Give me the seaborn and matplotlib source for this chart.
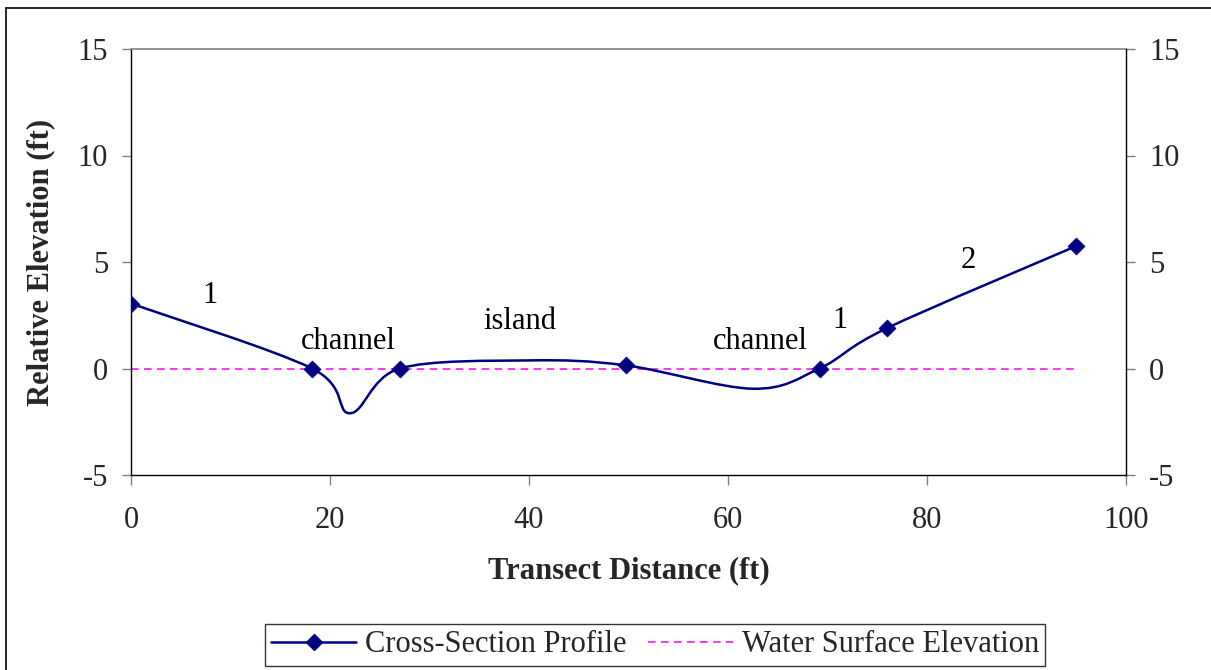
import numpy as np
import pandas as pd
import matplotlib
matplotlib.use("Agg")
import matplotlib.pyplot as plt
from matplotlib.path import Path
from matplotlib.patches import PathPatch
from matplotlib.lines import Line2D
import seaborn as sns

# Cross-section survey (ft); unmarked points shape the smoothed curve
x_profile = [0.0, 18.2, 22.0, 27.0, 40.0, 49.7, 62.5, 69.2, 76.0, 95.0]
y_profile = [3.05, 0.0, -2.1, 0.0, 0.38, 0.15, -0.95, 0.0, 1.9, 5.75]
has_marker = [True, True, False, True, False, True, False, True, True, True]

# Water surface line
x_water = [0.0, 95.0]
y_water = [0.0, 0.0]

# Feature labels
label_text = ["1", "channel", "island", "channel", "1", "2"]
label_x = [7.9, 21.8, 39.1, 63.2, 71.3, 84.1]
label_y = [3.45, 1.27, 2.2, 1.27, 2.25, 5.05]

navy = "#000080"
magenta = "#ff00ff"

sns.set_style("ticks")
plt.rcParams["font.family"] = ["Liberation Serif", "DejaVu Serif"]
plt.rcParams["axes.unicode_minus"] = False
fs = 22

fig = plt.figure(figsize=(12.11, 6.70), dpi=100)
ax = fig.add_axes([131 / 1211, 1 - 475 / 670, 995 / 1211, 426 / 670])

# smoothed profile: Catmull-Rom style Bezier segments (like Excel smoothing)
pts = np.column_stack([x_profile, y_profile])
ext = np.vstack([pts[0], pts, pts[-1]])
verts = [tuple(pts[0])]
codes = [Path.MOVETO]
for i in range(len(pts) - 1):
    p0, p1, p2, p3 = ext[i], ext[i + 1], ext[i + 2], ext[i + 3]
    c1 = p1 + (p2 - p0) / 6.0
    c2 = p2 - (p3 - p1) / 6.0
    verts += [tuple(c1), tuple(c2), tuple(p2)]
    codes += [Path.CURVE4] * 3
ax.add_patch(PathPatch(Path(verts, codes), facecolor="none", edgecolor=navy,
                       lw=1.8, zorder=3))

df_water = pd.DataFrame({"x": x_water, "y": y_water})
sns.lineplot(data=df_water, x="x", y="y", ax=ax, color=magenta, lw=1.1,
             dashes=False, linestyle=(0, (5, 3.5)), zorder=2, legend=False)

df_pts = pd.DataFrame({"x": x_profile, "y": y_profile, "m": has_marker})
df_pts = df_pts[df_pts["m"]]
sns.scatterplot(data=df_pts, x="x", y="y", ax=ax, marker="D", s=75,
                color=navy, edgecolor=navy, linewidth=0.5, zorder=4, legend=False)

for t, lx, ly in zip(label_text, label_x, label_y):
    ax.text(lx, ly, t, ha="center", va="center", fontsize=fs, color="black")

ax.set_xlim(0, 100)
ax.set_ylim(-5, 15)
ax.set_xticks(range(0, 101, 20))
ax.set_yticks(range(-5, 16, 5))
ax.tick_params(axis="x", direction="out", length=7, width=1, color="#808080",
               pad=15, labelsize=fs)
ax.tick_params(axis="y", direction="out", length=6.5, width=1, color="#808080",
               pad=10, labelsize=fs)
for s in ["left", "bottom"]:
    ax.spines[s].set_color("black")
    ax.spines[s].set_linewidth(1.0)
ax.spines["top"].set_visible(True)
ax.spines["top"].set_color("#808080")
ax.spines["top"].set_linewidth(1.2)
ax.spines["right"].set_visible(False)

ax2 = ax.twinx()
ax2.set_ylim(-5, 15)
ax2.set_yticks(range(-5, 16, 5))
ax2.tick_params(axis="y", direction="out", length=6.5, width=1, color="#808080",
                pad=10, labelsize=fs)
for s in ["left", "top", "bottom"]:
    ax2.spines[s].set_visible(False)
ax2.spines["right"].set_visible(True)
ax2.spines["right"].set_color("black")
ax2.spines["right"].set_linewidth(1.0)
ax2.set_ylabel("")

ax.set_xlabel("Transect Distance (ft)", fontsize=fs, fontweight="bold")
ax.set_ylabel("Relative Elevation (ft)", fontsize=fs, fontweight="bold")
ax.xaxis.set_label_coords(0.5, -0.19)
ax.xaxis.label.set_va("top")
ax.yaxis.set_label_coords(-0.076, 0.5)

handles = [
    Line2D([], [], color=navy, lw=1.8, marker="D", markersize=8.5),
    Line2D([], [], color=magenta, lw=1.1, linestyle=(0, (5, 3.5))),
]
leg = fig.legend(handles, ["Cross-Section Profile", "Water Surface Elevation"],
                 loc="center", bbox_to_anchor=(655 / 1211, 1 - 645 / 670),
                 ncol=2, fontsize=fs, frameon=True, fancybox=False,
                 handlelength=2.8, handletextpad=0.28, columnspacing=0.7,
                 borderpad=0.2, borderaxespad=0)
leg.get_frame().set_edgecolor("black")
leg.get_frame().set_linewidth(1.0)

# outer chart border (top and left visible)
bx = 6 / 1211
by = 1 - 8 / 670
fig.add_artist(Line2D([bx, bx], [0, by], transform=fig.transFigure, color="black", lw=1.2))
fig.add_artist(Line2D([bx, 1], [by, by], transform=fig.transFigure, color="black", lw=1.2))

fig.savefig("out.png", dpi=100, facecolor="white")
